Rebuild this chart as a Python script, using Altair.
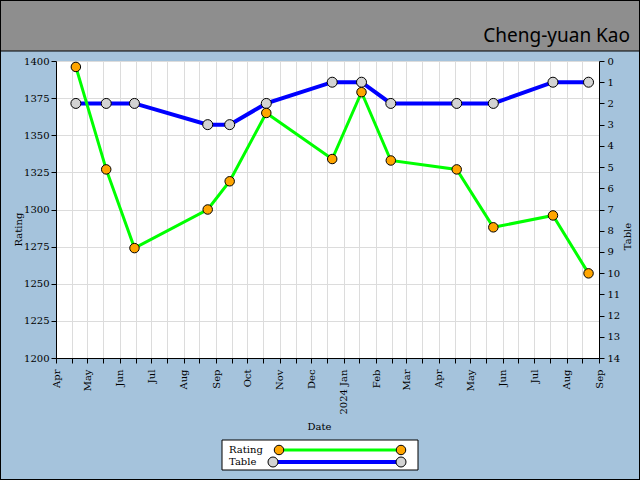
import altair as alt
import pandas as pd

# ---- data ----
dates = ["2023-04-20", "2023-05-19", "2023-06-15", "2023-08-24", "2023-09-14",
         "2023-10-19", "2023-12-21", "2024-01-18", "2024-02-15", "2024-04-18",
         "2024-05-23", "2024-07-19", "2024-08-22"]
rating = [1396, 1327, 1274, 1300, 1319, 1365, 1334, 1379, 1333, 1327, 1288, 1296, 1257]
table = [2, 2, 2, 3, 3, 2, 1, 1, 2, 2, 2, 1, 1]

rating_ticks = list(range(1200, 1401, 25))
table_ticks = list(range(0, 15))
player = "Cheng-yuan Kao"

df = pd.DataFrame({"Date": dates, "Rating": rating, "Table": table})

# axis ticks on the 1st and 16th of every month
tick_days = []
for m in pd.date_range("2023-04-01", "2024-09-01", freq="MS"):
    tick_days.append(m)
    if m < pd.Timestamp("2024-09-01"):
        tick_days.append(m + pd.Timedelta(days=15))
tick_ms = [int(t.value // 10**6) for t in tick_days]
dom = [tick_ms[0], tick_ms[-1]]

FONT = "DejaVu Serif"
BG = "#a5c3dc"
GRID = "#dcdcdc"

label_expr = ("utcdate(datum.value) == 1 ? (utcmonth(datum.value) == 0 ? "
              "utcFormat(datum.value, '%Y %b') : utcFormat(datum.value, '%b')) : ''")

x_enc = alt.X("Date:T",
              scale=alt.Scale(type="utc", domain=dom),
              axis=alt.Axis(values=tick_ms, labelExpr=label_expr, labelAngle=270,
                            labelAlign="right", labelBaseline="middle", labelPadding=6,
                            labelFont=FONT, titleFont=FONT,
                            title="Date", titleX=263, titleY=68, titleBaseline="middle",
                            titleAlign="center", grid=True, gridColor=GRID,
                            domainColor="black", tickColor="black", tickSize=5,
                            labelOverlap=False))

one = alt.Data(values=[{}])

header = alt.Chart(one).mark_rect(fill="#8e8e8e", stroke="black", strokeWidth=1).encode(
    x=alt.value(-56), x2=alt.value(584), y=alt.value(-61), y2=alt.value(-10))
border = alt.Chart(one).mark_rect(fillOpacity=0, stroke="black", strokeWidth=2).encode(
    x=alt.value(-56), x2=alt.value(584), y=alt.value(-61), y2=alt.value(419))
name_txt = alt.Chart(one).mark_text(align="right", baseline="alphabetic", fontSize=19,
                                    font="Noto Sans", color="black", text=player).encode(
    x=alt.value(574), y=alt.value(-19))

table_layer = alt.Chart(df).mark_line(
    color="#0000ff", strokeWidth=4,
    point=alt.OverlayMarkDef(filled=True, fill="#d3d3d3", stroke="black",
                             strokeWidth=1, size=100, opacity=1)
).encode(
    x=x_enc,
    y=alt.Y("Table:Q", scale=alt.Scale(domain=[0, 14], reverse=True, nice=False, zero=False),
            axis=alt.Axis(orient="right", values=table_ticks, grid=False, title="Table",
                          format="d", labelFont=FONT, titleFont=FONT,
                          titleAngle=270, titleX=28, titleY=175, titleBaseline="middle",
                          titleAlign="center", domainColor="black", tickColor="black",
                          tickSize=5, labelPadding=3))
)

rating_layer = alt.Chart(df).mark_line(
    color="#00ff00", strokeWidth=3,
    point=alt.OverlayMarkDef(filled=True, fill="#ffa500", stroke="black",
                             strokeWidth=1, size=90, opacity=1)
).encode(
    x=x_enc,
    y=alt.Y("Rating:Q", scale=alt.Scale(domain=[1200, 1400], nice=False, zero=False),
            axis=alt.Axis(orient="left", values=rating_ticks, grid=True, gridColor=GRID,
                          format="d", labelFont=FONT, titleFont=FONT,
                          title="Rating", titleAngle=270, titleX=-38, titleY=168,
                          titleBaseline="middle", titleAlign="center",
                          domainColor="black", tickColor="black", tickSize=5,
                          labelPadding=2))
)

# legend (drawn by hand, like the reference)
leg_box = alt.Chart(one).mark_rect(fill="white", stroke="black", strokeWidth=1).encode(
    x=alt.value(166), x2=alt.value(362), y=alt.value(379), y2=alt.value(409))
leg_t1 = alt.Chart(one).mark_text(align="left", baseline="middle", font=FONT, fontSize=10,
                                  text="Rating", color="black").encode(
    x=alt.value(173), y=alt.value(389))
leg_t2 = alt.Chart(one).mark_text(align="left", baseline="middle", font=FONT, fontSize=10,
                                  text="Table", color="black").encode(
    x=alt.value(173), y=alt.value(401))
leg_l1 = alt.Chart(one).mark_rule(color="#00ff00", strokeWidth=3).encode(
    x=alt.value(223), x2=alt.value(345), y=alt.value(389))
leg_l2 = alt.Chart(one).mark_rule(color="#0000ff", strokeWidth=4).encode(
    x=alt.value(217), x2=alt.value(345), y=alt.value(401))


def dot(xv, yv, fill, size):
    return alt.Chart(one).mark_point(filled=True, fill=fill, stroke="black", strokeWidth=1,
                                     size=size, opacity=1, shape="circle").encode(
        x=alt.value(xv), y=alt.value(yv))


legend = [leg_box, leg_t1, leg_t2, leg_l1, leg_l2,
          dot(223, 389, "#ffa500", 90), dot(345, 389, "#ffa500", 90),
          dot(217, 401, "#d3d3d3", 100), dot(345, 401, "#d3d3d3", 100)]

chart = alt.layer(header, border, name_txt, table_layer, rating_layer, *legend).resolve_scale(
    y="independent"
).properties(
    width=543, height=297,
    autosize=alt.AutoSizeParams(type="none"),
    padding={"left": 56, "top": 61, "right": 41, "bottom": 122},
    background=BG,
).configure_view(
    fill="white", strokeWidth=0
).configure_axis(
    labelFont=FONT, titleFont=FONT, labelFontSize=10, titleFontSize=10,
    labelColor="black", titleColor="black", titleFontWeight="normal"
)

chart.save("out.html", embed_options={"renderer": "svg", "actions": False})
